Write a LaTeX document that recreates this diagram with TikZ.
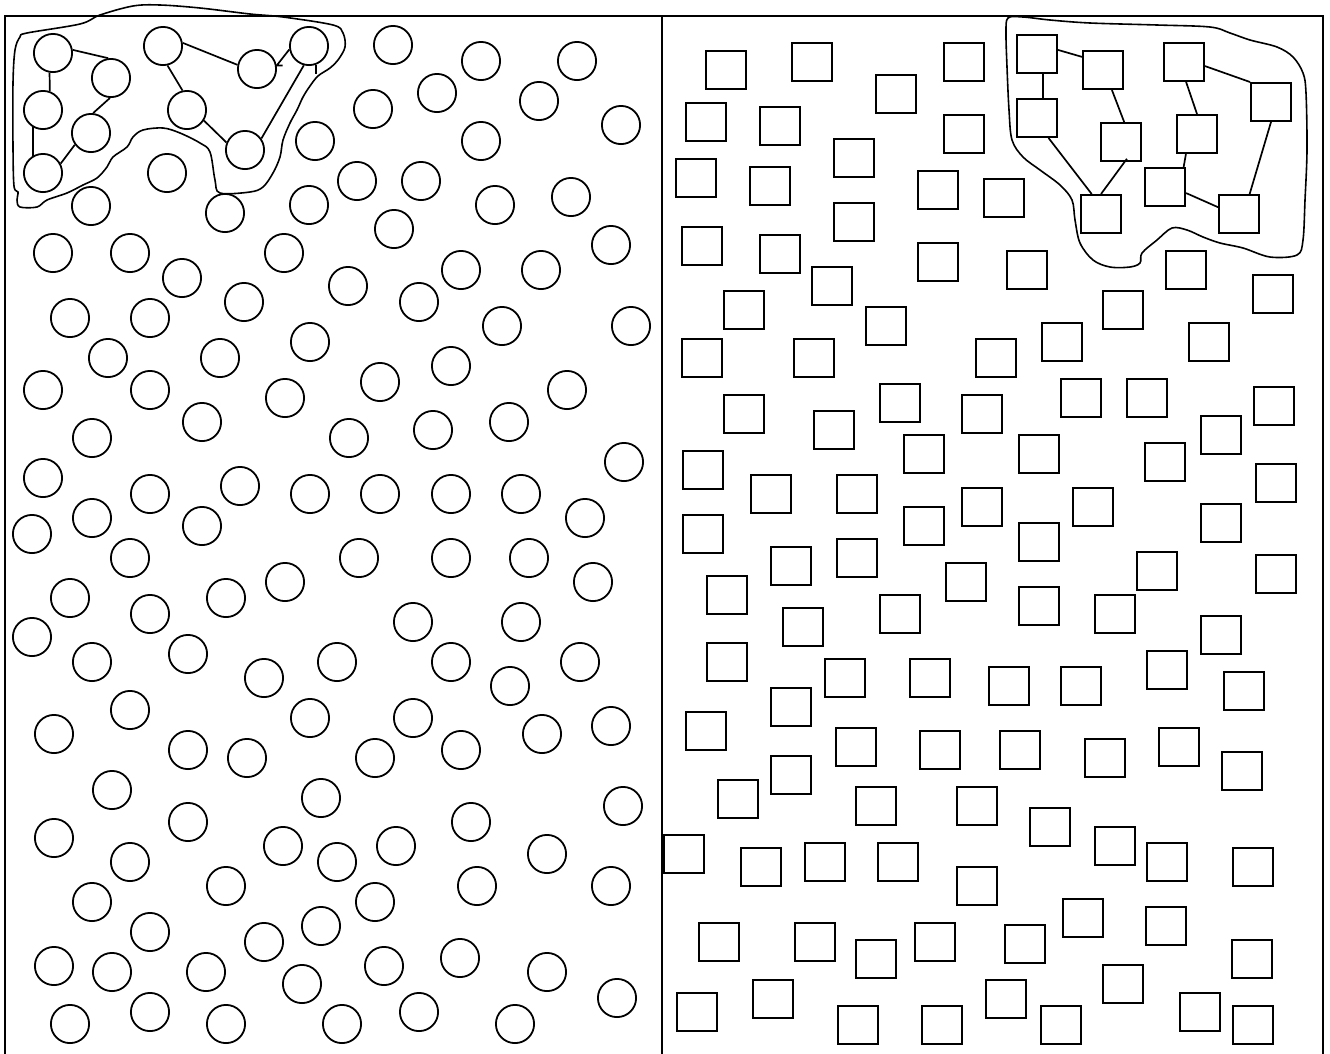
\documentclass[tikz,border=0pt]{standalone}
\begin{document}
\begin{tikzpicture}[x=1pt,y=-1pt,
 circ/.style={draw, circle, line width=1.8pt, minimum size=38.2pt, inner sep=0pt},
 sq/.style={draw, rectangle, line width=1.8pt, minimum width=40.2pt, minimum height=38.2pt, inner sep=0pt},
 link/.style={line width=1.7pt},
 blob/.style={line width=1.6pt},
 frame/.style={line width=1.8pt}]
\useasboundingbox (0,0) rectangle (1330,1053);
% frame
\draw[frame] (5,1060) -- (5,16) -- (1323,16) -- (1323,1060);
\draw[frame] (662,16) -- (662,1060);

% left blob circles
\node[circ] (A) at (53,53) {};
\node[circ] (B) at (111,78) {};
\node[circ] (F) at (163,46) {};
\node[circ] (H) at (257,69) {};
\node[circ] (J) at (309,46) {};
\node[circ] (C) at (43,110) {};
\node[circ] (G) at (187,110) {};
\node[circ] (D) at (91,133) {};
\node[circ] (I) at (245,150) {};
\node[circ] (E) at (43,173) {};

\draw[link] (A.9) -- (B.98);
\draw[link] (A.260) -- (C.70);
\draw[link] (B.-93) -- (D.84);
\draw[link] (C.240) -- (E.120);
\draw[link] (D.216) -- (E.28);
\draw[link] (F.-77) -- (G.103);
\draw[link] (F.9) -- (H.168);
\draw[link] (G.-32) -- (I.158);
\draw[link] (J.255) -- (I.35);
\draw[link] (J.190) -- (H.10) -- ++(6,0);
\draw[link] (J.290) -- ++(0,9);

\draw[blob] plot[smooth cycle, tension=0.55] coordinates {
 (27,33) (80,24) (100,15) (133,6) (160,5) (200,8) (250,14) (283,17) (333,25) (343,33)
 (345,47) (338,60) (330,68) (318,76) (310,86) (303,97) (297,110) (290,123) (283,140)
 (280,157) (273,173) (263,187) (250,192) (220,193) (215,180) (210,152) (200,143)
 (180,133) (163,128) (143,130) (133,137) (127,147) (113,157) (107,167) (97,178)
 (83,185) (67,193) (47,200) (37,207) (20,207) (17,200) (18,192) (14,186) (13,147)
 (13,83) (15,50) (20,37)};

% other circles
\foreach \x/\y [count=\i] in {
 393/45, 481/61, 577/61, 373/109, 437/93, 539/101, 315/141, 481/141, 621/125,
 167/173, 357/181, 421/181, 91/206, 225/213, 309/205, 495/205, 571/197, 394/229,
 53/253, 130/253, 284/253, 611/245, 182/278, 461/270, 541/270, 348/286, 244/302, 419/302,
 70/318, 150/318, 502/326, 631/326, 310/342, 108/358, 220/358, 451/366,
 43/390, 150/390, 380/382, 567/390, 285/398, 202/422, 509/422, 92/438, 349/438, 433/430,
 624/462, 43/478, 150/494, 240/486, 310/494, 380/494, 451/494, 521/494, 92/518, 585/518,
 32/534, 202/526, 130/558, 359/558, 451/558, 529/558, 70/598, 226/598, 285/582, 593/582,
 150/614, 413/622, 521/622, 32/637,
 188/654, 92/662, 264/678, 337/662, 451/662, 580/662, 510/686, 130/710, 310/718, 413/718,
 54/734, 188/750, 247/758, 375/758, 461/750, 542/734, 611/726, 112/790, 321/798, 188/822,
 471/822, 623/806, 54/838, 130/862, 283/846, 337/862, 396/846, 547/854, 226/886, 477/886,
 611/886, 92/902, 375/902, 150/932, 264/942, 321/926, 54/966, 112/972, 206/972, 302/984,
 384/966, 460/958, 547/972, 617/998, 70/1024, 150/1012, 226/1024, 342/1024, 419/1012, 515/1024}
 \node[circ] (c\i) at (\x,\y) {};

% right blob squares
\node[sq] (S1) at (1037,54) {};
\node[sq] (S2) at (1103,70) {};
\node[sq] (S3) at (1184,62) {};
\node[sq] (S4) at (1271,102) {};
\node[sq] (S5) at (1037,118) {};
\node[sq] (S6) at (1121,142) {};
\node[sq] (S7) at (1197,134) {};
\node[sq] (S8) at (1165,187) {};
\node[sq] (S9) at (1101,214) {};
\node[sq] (S10) at (1239,214) {};

\draw[link] (S1.11) -- (S2.148);
\draw[link] (S1.-73) -- (S5.73);
\draw[link] (S2.-66) -- (S6.81);
\draw[link] (S3.-84) -- (S7.north);
\draw[link] (S3.-11) -- (S4.north west);
\draw[link] (S5.-60) -- (S9.115);
\draw[link, shorten <=-4pt] (S6.-80) -- (S9.north);
\draw[link] (S7.-119) -- (S8.47);
\draw[link] (S8.-16) -- (S10.162);
\draw[link] (S4.south) -- (S10.62);

\draw[blob] plot[smooth cycle, tension=0.55] coordinates {
 (1008,18) (1006,33) (1007,67) (1009,110) (1012,140) (1023,157) (1040,170) (1060,185)
 (1072,200) (1075,220) (1080,243) (1093,260) (1110,267) (1130,267) (1140,263) (1142,253)
 (1157,240) (1172,228) (1187,230) (1203,237) (1220,243) (1243,248) (1270,257) (1297,255)
 (1303,240) (1305,200) (1307,150) (1306,93) (1303,73) (1293,57) (1277,47) (1250,40)
 (1230,33) (1210,27) (1157,25) (1090,23) (1050,20) (1023,17)};

% other squares
\foreach \x/\y [count=\i] in {
 726/70, 812/62, 896/94, 964/62, 706/122, 780/126, 854/158, 964/134, 696/178, 770/186,
 938/190, 1004/198, 854/222, 702/246, 780/254, 938/262, 1027/270, 832/286, 744/310, 886/326,
 1186/270, 1273/294, 1123/310, 702/358, 814/358, 996/358, 1062/342, 1209/342,
 744/414, 834/430, 900/403, 982/414, 1081/398, 1147/398, 1274/406, 1221/435,
 703/470, 924/454, 1039/454, 1165/462, 771/494, 857/494, 982/507, 1093/507, 1276/483,
 703/534, 924/526, 1039/542, 1221/523, 791/566, 857/558, 966/582, 1157/571, 1276/574,
 727/595, 803/627, 900/614, 1039/606, 1115/614, 1221/635,
 727/662, 845/678, 930/678, 1167/670, 1009/686, 1081/686, 1244/691,
 706/731, 791/707, 856/747, 940/750, 1020/750, 1105/758, 1179/747, 1242/771,
 791/775, 738/799, 876/806, 977/806, 1050/827,
 684/854, 761/867, 825/862, 898/862, 977/886, 1115/846, 1167/862, 1253/867,
 719/942, 815/942, 876/959, 935/942, 1025/944, 1083/918, 1166/926, 1252/959,
 697/1012, 773/999, 858/1025, 942/1025, 1006/999, 1061/1025, 1123/984, 1200/1012, 1253/1025}
 \node[sq] (s\i) at (\x,\y) {};
\end{tikzpicture}
\end{document}
